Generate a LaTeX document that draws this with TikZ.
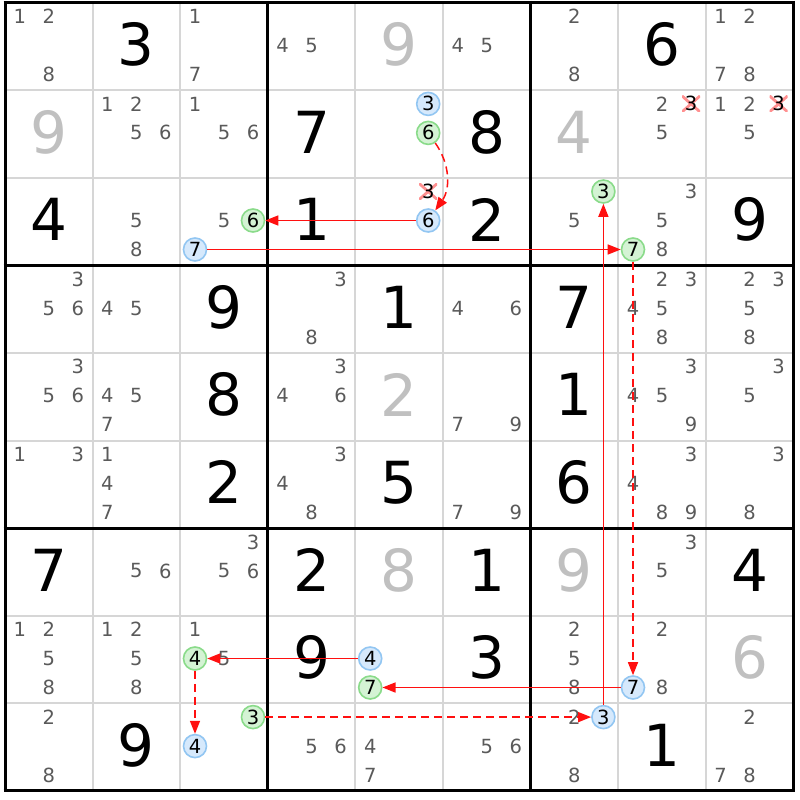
\documentclass[tikz,border=0pt]{standalone}
\usepackage{fontspec}
\setmainfont{DejaVu Sans}
\usetikzlibrary{arrows.meta}

\definecolor{candgray}{HTML}{5A5A5A}
\definecolor{solvedgray}{HTML}{C0C0C0}
\definecolor{gridgray}{HTML}{D6D6D6}
\definecolor{ongreen}{HTML}{8ADB8A}
\definecolor{onfill}{HTML}{D4F3D4}
\definecolor{offblue}{HTML}{92C6F2}
\definecolor{offfill}{HTML}{D6E9FC}
\definecolor{linkred}{HTML}{FF1010}
\definecolor{elimred}{HTML}{FF9090}

% cell (row,col) -> centre, in pixels
\newcommand{\given}[4]{%
  \node[given,text=#4] (g#1#2) at ({5+(#2-0.5)*87.6},{0.5+(#1-0.5)*87.6}) {#3};}
\newcommand{\cands}[3]{%
  \foreach \d in {#3}{%
    \node[cand] (c#1#2\d) at ({5+(#2-0.5)*87.6+(mod(\d-1,3)-1)*29},{1.5+(#1-0.5)*87.6+(int((\d-1)/3)-1)*29}) {\d};}}
\newcommand{\ccand}[4]{%
  \node[cand,#4] (c#1#2#3) at ({5+(#2-0.5)*87.6+(mod(#3-1,3)-1)*29},{1.5+(#1-0.5)*87.6+(int((#3-1)/3)-1)*29}) {#3};}

\begin{document}
\begin{tikzpicture}[x=1pt,y=-1pt,
    given/.style={font=\fontsize{58pt}{58pt}\selectfont, inner sep=0pt},
    cand/.style={font=\fontsize{19.5pt}{19.5pt}\selectfont, text=candgray, inner sep=0pt},
    oncand/.style={circle, draw=ongreen, fill=onfill, text=black, minimum size=23pt, line width=1.6pt},
    offcand/.style={circle, draw=offblue, fill=offfill, text=black, minimum size=23pt, line width=1.6pt},
    elim/.style={text=black, minimum width=18pt, minimum height=16pt,
      path picture={\draw[elimred, line width=2.8pt]
        (path picture bounding box.south west) -- (path picture bounding box.north east)
        (path picture bounding box.north west) -- (path picture bounding box.south east);}},
    strong/.style={draw=linkred, line width=1.5pt, -{Triangle[length=13pt,width=10pt]}},
    weak/.style={strong, dash pattern=on 8pt off 5pt}]
  \useasboundingbox[fill=white] (0,0) rectangle (800,800);

  % grid
  \foreach \i in {1,2,4,5,7,8} {
    \draw[gridgray, line width=2pt] ({5+\i*87.6},2.5) -- ({5+\i*87.6},790.9);
    \draw[gridgray, line width=2pt] (5,{2.5+\i*87.6}) -- (793.4,{2.5+\i*87.6});
  }
  \foreach \i in {0,3,6,9} {
    \draw[black, line width=3pt] ({5+\i*87.6},1) -- ({5+\i*87.6},792.4);
    \draw[black, line width=3pt] (3.5,{2.5+\i*87.6}) -- (794.9,{2.5+\i*87.6});
  }

  % givens and placed digits
  \given{1}{2}{3}{black}      \given{1}{5}{9}{solvedgray} \given{1}{8}{6}{black}
  \given{2}{1}{9}{solvedgray} \given{2}{4}{7}{black}      \given{2}{6}{8}{black}
  \given{2}{7}{4}{solvedgray}
  \given{3}{1}{4}{black}      \given{3}{4}{1}{black}      \given{3}{6}{2}{black}
  \given{3}{9}{9}{black}
  \given{4}{3}{9}{black}      \given{4}{5}{1}{black}      \given{4}{7}{7}{black}
  \given{5}{3}{8}{black}      \given{5}{5}{2}{solvedgray} \given{5}{7}{1}{black}
  \given{6}{3}{2}{black}      \given{6}{5}{5}{black}      \given{6}{7}{6}{black}
  \given{7}{1}{7}{black}      \given{7}{4}{2}{black}      \given{7}{5}{8}{solvedgray}
  \given{7}{6}{1}{black}      \given{7}{7}{9}{solvedgray} \given{7}{9}{4}{black}
  \given{8}{4}{9}{black}      \given{8}{6}{3}{black}      \given{8}{9}{6}{solvedgray}
  \given{9}{2}{9}{black}      \given{9}{8}{1}{black}

  % candidates
  \cands{1}{1}{1,2,8} \cands{1}{3}{1,7} \cands{1}{4}{4,5} \cands{1}{6}{4,5}
  \cands{1}{7}{2,8} \cands{1}{9}{1,2,7,8}
  \cands{2}{2}{1,2,5,6} \cands{2}{3}{1,5,6} \cands{2}{8}{2,5} \cands{2}{9}{1,2,5}
  \cands{3}{2}{5,8} \cands{3}{3}{5} \cands{3}{7}{5} \cands{3}{8}{3,5,8}
  \cands{4}{1}{3,5,6} \cands{4}{2}{4,5} \cands{4}{4}{3,8} \cands{4}{6}{4,6}
  \cands{4}{8}{2,3,4,5,8} \cands{4}{9}{2,3,5,8}
  \cands{5}{1}{3,5,6} \cands{5}{2}{4,5,7} \cands{5}{4}{3,4,6} \cands{5}{6}{7,9}
  \cands{5}{8}{3,4,5,9} \cands{5}{9}{3,5}
  \cands{6}{1}{1,3} \cands{6}{2}{1,4,7} \cands{6}{4}{3,4,8} \cands{6}{6}{7,9}
  \cands{6}{8}{3,4,8,9} \cands{6}{9}{3,8}
  \cands{7}{2}{5,6} \cands{7}{3}{3,5,6} \cands{7}{8}{3,5}
  \cands{8}{1}{1,2,5,8} \cands{8}{2}{1,2,5,8} \cands{8}{3}{1,5} \cands{8}{7}{2,5,8}
  \cands{8}{8}{2,8}
  \cands{9}{1}{2,8} \cands{9}{4}{5,6} \cands{9}{5}{4,7} \cands{9}{6}{5,6}
  \cands{9}{7}{2,8} \cands{9}{9}{2,7,8}

  % chain candidates
  \ccand{2}{5}{3}{offcand} \ccand{2}{5}{6}{oncand}
  \ccand{2}{8}{3}{elim}    \ccand{2}{9}{3}{elim}
  \ccand{3}{3}{6}{oncand}  \ccand{3}{3}{7}{offcand}
  \ccand{3}{5}{3}{elim}    \ccand{3}{5}{6}{offcand}
  \ccand{3}{7}{3}{oncand}  \ccand{3}{8}{7}{oncand}
  \ccand{8}{3}{4}{oncand}  \ccand{8}{5}{4}{offcand} \ccand{8}{5}{7}{oncand}
  \ccand{8}{8}{7}{offcand}
  \ccand{9}{3}{3}{oncand}  \ccand{9}{3}{4}{offcand} \ccand{9}{7}{3}{offcand}

  % links
  \draw[weak] (c256) to[bend left=35] (c356);
  \draw[strong] (c356) -- (c336);
  \draw[strong] (c337) -- (c387);
  \draw[weak] (c387) -- (c887);
  \draw[strong] (c887) -- (c857);
  \draw[strong] (c854) -- (c834);
  \draw[weak] (c834) -- (c934);
  \draw[weak] (c933) -- (c973);
  \draw[strong] (c973) -- (c373);
\end{tikzpicture}
\end{document}
